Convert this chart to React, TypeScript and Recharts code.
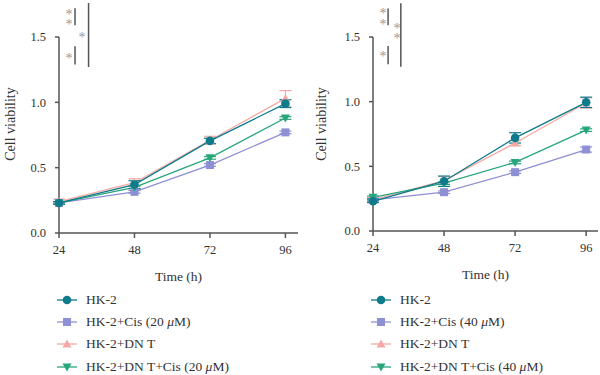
import React from 'react';
import { LineChart, Line, XAxis, YAxis, ErrorBar, ReferenceLine } from 'recharts';

const HOURS = [24, 48, 72, 96];
const Y_TICKS = [0, 0.5, 1.0, 1.5];

// left panel (20 uM)
const HK2_A = [0.23, 0.37, 0.705, 0.99];
const CIS_A = [0.23, 0.315, 0.52, 0.77];
const DNT_A = [0.24, 0.385, 0.71, 1.03];
const DNTCIS_A = [0.23, 0.35, 0.575, 0.88];
const HK2_A_ERR = [0.01, 0.03, 0.02, 0.03];
const CIS_A_ERR = [0.01, 0.01, 0.01, 0.01];
const DNT_A_ERR = [0.02, 0.03, 0.03, 0.06];
const DNTCIS_A_ERR = [0.01, 0.01, 0.01, 0.01];

// right panel (40 uM)
const HK2_B = [0.23, 0.385, 0.72, 0.995];
const CIS_B = [0.24, 0.3, 0.455, 0.63];
const DNT_B = [0.24, 0.39, 0.68, 0.99];
const DNTCIS_B = [0.26, 0.37, 0.53, 0.78];
const HK2_B_ERR = [0.01, 0.04, 0.04, 0.04];
const CIS_B_ERR = [0.01, 0.01, 0.01, 0.02];
const DNT_B_ERR = [0.02, 0.03, 0.02, 0.04];
const DNTCIS_B_ERR = [0.01, 0.01, 0.01, 0.01];

const TEAL = '#0e7b8c';
const PURPLE = '#8e8fd4';
const PINK = '#f4a9a5';
const GREEN = '#27a67a';
const AXIS = '#555';
const TEXT = '#333';
const FONT = '"Liberation Serif", "Times New Roman", serif';

type Kind = 'circle' | 'square' | 'up' | 'down';

function marker(kind: Kind, color: string, cx: number, cy: number, key?: React.Key) {
  if (kind === 'circle') return <circle key={key} cx={cx} cy={cy} r={4.3} fill={color} />;
  if (kind === 'square') return <rect key={key} x={cx - 4} y={cy - 4} width={8} height={8} fill={color} />;
  if (kind === 'up')
    return <polygon key={key} points={`${cx},${cy - 4.5} ${cx + 4.5},${cy + 3.5} ${cx - 4.5},${cy + 3.5}`} fill={color} />;
  return <polygon key={key} points={`${cx},${cy + 4.5} ${cx + 4.5},${cy - 3.5} ${cx - 4.5},${cy - 3.5}`} fill={color} />;
}

const dot = (kind: Kind, color: string) => (p: any) => marker(kind, color, p.cx, p.cy, p.index);

interface Star {
  x: number;
  y: number;
  n: number;
  gap: number;
}

interface PanelProps {
  hk2: number[];
  cis: number[];
  dnt: number[];
  dntCis: number[];
  errs: number[][];
  dose: string;
  axisWidth: number;
  plotBottom: number;
  labelOffset: number;
  stars: Star[];
}

function Panel({ hk2, cis, dnt, dntCis, errs, dose, axisWidth, plotBottom, labelOffset, stars }: PanelProps) {
  const rows = HOURS.map((h, i) => ({
    hour: h,
    hk2: hk2[i],
    cis: cis[i],
    dnt: dnt[i],
    dntCis: dntCis[i],
    hk2Err: errs[0][i],
    cisErr: errs[1][i],
    dntErr: errs[2][i],
    dntCisErr: errs[3][i],
  }));

  const legend: { name: React.ReactNode; kind: Kind; color: string }[] = [
    { name: 'HK-2', kind: 'circle', color: TEAL },
    { name: <>HK-2+Cis ({dose}{'\u00a0'}<i>μ</i>M)</>, kind: 'square', color: PURPLE },
    { name: 'HK-2+DN T', kind: 'up', color: PINK },
    { name: <>HK-2+DN T+Cis ({dose}{'\u00a0'}<i>μ</i>M)</>, kind: 'down', color: GREEN },
  ];

  const tick = { fontSize: 12.5, fill: TEXT, fontFamily: FONT };
  const sig = { stroke: AXIS, strokeWidth: 1.5, ifOverflow: 'visible' as const };

  return (
    <div style={{ position: 'relative', width: 300, height: 375, fontFamily: FONT }}>
      <LineChart width={300} height={plotBottom + 52} data={rows} margin={{ top: 37, right: 2, left: 0, bottom: 0 }}>
        <XAxis
          type="number"
          dataKey="hour"
          domain={[24, 100]}
          ticks={HOURS}
          height={52}
          tick={tick}
          tickSize={5}
          tickMargin={7}
          axisLine={{ stroke: AXIS, strokeWidth: 1.5 }}
          tickLine={{ stroke: AXIS, strokeWidth: 1.5 }}
          label={{ value: 'Time (h)', position: 'insideBottom', offset: 4, fontSize: 13.5, fill: TEXT, fontFamily: FONT }}
        />
        <YAxis
          type="number"
          domain={[0, 1.5]}
          ticks={Y_TICKS}
          width={axisWidth}
          tick={tick}
          tickSize={4}
          tickMargin={9}
          tickFormatter={(v: number) => v.toFixed(1)}
          axisLine={{ stroke: AXIS, strokeWidth: 1.5 }}
          tickLine={{ stroke: AXIS, strokeWidth: 1.5 }}
          label={{
            content: () => (
              <text
                x={labelOffset}
                y={124}
                transform={`rotate(-90, ${labelOffset}, 124)`}
                textAnchor="middle"
                dominantBaseline="central"
                fontSize={14}
                fill={TEXT}
                fontFamily={FONT}
              >
                Cell viability
              </text>
            ),
          }}
        />
        <ReferenceLine segment={[{ x: 29.1, y: 1.72 }, { x: 29.1, y: 1.59 }]} {...sig} />
        <ReferenceLine segment={[{ x: 29.1, y: 1.43 }, { x: 29.1, y: 1.29 }]} {...sig} />
        <ReferenceLine segment={[{ x: 33.4, y: 1.76 }, { x: 33.4, y: 1.27 }]} {...sig} />
        <Line type="linear" dataKey="cis" stroke={PURPLE} strokeWidth={1.3} dot={dot('square', PURPLE)} activeDot={false} isAnimationActive={false}>
          <ErrorBar dataKey="cisErr" width={6} stroke={PURPLE} strokeWidth={1.2} />
        </Line>
        <Line type="linear" dataKey="dnt" stroke={PINK} strokeWidth={1.3} dot={dot('up', PINK)} activeDot={false} isAnimationActive={false}>
          <ErrorBar dataKey="dntErr" width={6} stroke={PINK} strokeWidth={1.2} />
        </Line>
        <Line type="linear" dataKey="dntCis" stroke={GREEN} strokeWidth={1.3} dot={dot('down', GREEN)} activeDot={false} isAnimationActive={false}>
          <ErrorBar dataKey="dntCisErr" width={6} stroke={GREEN} strokeWidth={1.2} />
        </Line>
        <Line type="linear" dataKey="hk2" stroke={TEAL} strokeWidth={1.3} dot={dot('circle', TEAL)} activeDot={false} isAnimationActive={false}>
          <ErrorBar dataKey="hk2Err" width={6} stroke={TEAL} strokeWidth={1.2} />
        </Line>
      </LineChart>
      {stars.map((s, i) => (
        <span
          key={i}
          style={{
            position: 'absolute',
            left: s.x - 3.5,
            top: s.y - 2.5,
            fontSize: 14,
            lineHeight: `${s.gap}px`,
            color: '#999',
            whiteSpace: 'pre',
          }}
        >
          {Array(s.n).fill('*').join('\n')}
        </span>
      ))}
      {legend.map((item, i) => (
        <div
          key={i}
          style={{
            position: 'absolute',
            left: axisWidth - 2,
            top: 300 + i * 22.2 - 10,
            height: 20,
            display: 'flex',
            alignItems: 'center',
            fontSize: 13.5,
            color: TEXT,
            whiteSpace: 'nowrap',
          }}
        >
          <svg width={20} height={12} style={{ marginRight: 9 }}>
            <line x1={0} y1={6} x2={20} y2={6} stroke={item.color} strokeWidth={1.3} />
            {marker(item.kind, item.color, 10, 6)}
          </svg>
          {item.name}
        </div>
      ))}
    </div>
  );
}

export default function App() {
  return (
    <div style={{ position: 'absolute', left: 0, top: 0, width: 600, height: 375, display: 'flex', background: '#fff' }}>
      <Panel
        hk2={HK2_A}
        cis={CIS_A}
        dnt={DNT_A}
        dntCis={DNTCIS_A}
        errs={[HK2_A_ERR, CIS_A_ERR, DNT_A_ERR, DNTCIS_A_ERR]}
        dose="20"
        axisWidth={59}
        plotBottom={233}
        labelOffset={10}
        stars={[
          { x: 69, y: 12, n: 2, gap: 10 },
          { x: 69, y: 56, n: 1, gap: 10 },
          { x: 82, y: 35, n: 1, gap: 10 },
        ]}
      />
      <Panel
        hk2={HK2_B}
        cis={CIS_B}
        dnt={DNT_B}
        dntCis={DNTCIS_B}
        errs={[HK2_B_ERR, CIS_B_ERR, DNT_B_ERR, DNTCIS_B_ERR]}
        dose="40"
        axisWidth={73}
        plotBottom={231}
        labelOffset={21}
        stars={[
          { x: 83, y: 10, n: 2, gap: 11 },
          { x: 83, y: 54, n: 1, gap: 10 },
          { x: 97, y: 26, n: 2, gap: 10 },
        ]}
      />
    </div>
  );
}
